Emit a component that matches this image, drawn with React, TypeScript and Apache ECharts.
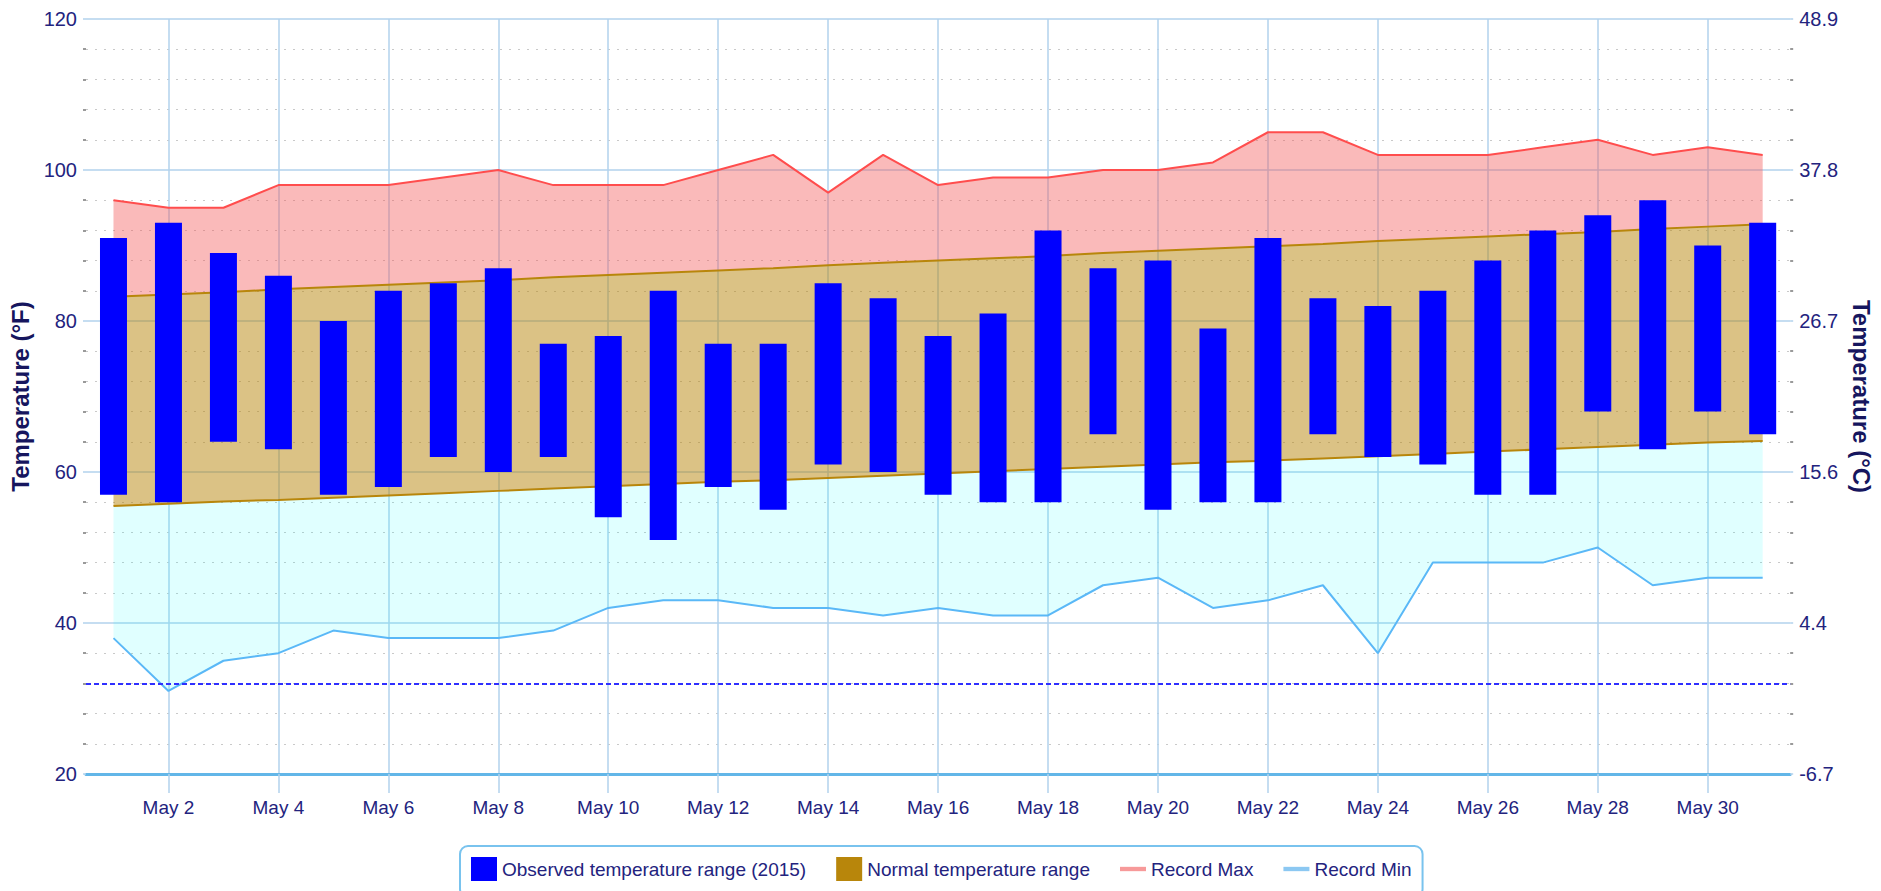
import React, { useEffect, useRef } from "react";
import * as echarts from "echarts";

const days = [
  "May 1", "May 2", "May 3", "May 4", "May 5", "May 6", "May 7", "May 8", "May 9", "May 10",
  "May 11", "May 12", "May 13", "May 14", "May 15", "May 16", "May 17", "May 18", "May 19", "May 20",
  "May 21", "May 22", "May 23", "May 24", "May 25", "May 26", "May 27", "May 28", "May 29", "May 30", "May 31",
];

const obsMax = [91, 93, 89, 86, 80, 84, 85, 87, 77, 78, 84, 77, 77, 85, 83, 78, 81, 92, 87, 88, 79, 91, 83, 82, 84, 88, 92, 94, 96, 90, 93];
const obsMin = [57, 56, 64, 63, 57, 58, 62, 60, 62, 54, 51, 58, 55, 61, 60, 57, 56, 56, 65, 55, 56, 56, 65, 62, 61, 57, 57, 68, 63, 68, 65];

const normMax = [83.2, 83.5, 83.8, 84.2, 84.5, 84.8, 85.1, 85.4, 85.8, 86.1, 86.4, 86.7, 87.0, 87.4, 87.7, 88.0, 88.3, 88.6, 89.0, 89.3, 89.6, 89.9, 90.2, 90.6, 90.9, 91.2, 91.5, 91.8, 92.2, 92.5, 92.8];
const normMin = [55.5, 55.8, 56.1, 56.3, 56.6, 56.9, 57.2, 57.5, 57.8, 58.1, 58.4, 58.7, 58.9, 59.2, 59.5, 59.8, 60.1, 60.4, 60.7, 61.0, 61.3, 61.5, 61.8, 62.1, 62.4, 62.7, 63.0, 63.3, 63.6, 63.9, 64.1];

const recMax = [96, 95, 95, 98, 98, 98, 99, 100, 98, 98, 98, 100, 102, 97, 102, 98, 99, 99, 100, 100, 101, 105, 105, 102, 102, 102, 103, 104, 102, 103, 102];
const recMin = [38, 31, 35, 36, 39, 38, 38, 38, 39, 42, 43, 43, 42, 42, 41, 42, 41, 41, 45, 46, 42, 43, 45, 36, 48, 48, 48, 50, 45, 46, 46];

const freezing = 32;

const FONT = "'Liberation Sans', Arial, sans-serif";
const NAVY = "#23237e";
const GRID_BLUE = "#b2d2ec";
const LINE_ICON = "path://M0,0 L30,0 L30,5 L0,5 Z";

const diff = (a: number[], b: number[]) => a.map((v, i) => +(v - b[i]).toFixed(2));
const toC = (f: number) => ((f - 32) * 5 / 9).toFixed(1);

export default function App() {
  const ref = useRef<HTMLDivElement>(null);

  useEffect(() => {
    if (!ref.current) return;
    const chart = echarts.init(ref.current, undefined, { renderer: "svg" });
    const evenIdx = (i: number) => i % 2 === 1;
    const bandLine = { opacity: 0, width: 0 };

    chart.setOption({
      animation: false,
      backgroundColor: "#ffffff",
      grid: { left: 86, right: 80, top: 19, bottom: 117, containLabel: false },
      legend: {
        left: 460,
        top: 846,
        orient: "horizontal",
        padding: [11, 11, 16, 11],
        borderColor: "#79c3ee",
        borderWidth: 2,
        borderRadius: 8,
        backgroundColor: "#ffffff",
        itemGap: 30,
        itemWidth: 26,
        itemHeight: 24,
        symbolKeepAspect: true,
        textStyle: { fontFamily: FONT, fontSize: 19, color: NAVY },
        data: [
          { name: "Observed temperature range (2015)", icon: "rect" },
          { name: "Normal temperature range", icon: "rect", itemStyle: { color: "#b8860b" } },
          { name: "Record Max", icon: LINE_ICON, itemStyle: { color: "#f79a9a" } },
          { name: "Record Min", icon: LINE_ICON, itemStyle: { color: "#8cc8f2" } },
        ],
      },
      xAxis: {
        type: "category",
        data: days,
        boundaryGap: true,
        axisLine: { show: true, lineStyle: { color: "#62b6e8", width: 3 } },
        axisTick: {
          show: true,
          alignWithLabel: true,
          interval: evenIdx,
          length: 19,
          lineStyle: { color: GRID_BLUE, width: 1.5 },
        },
        axisLabel: {
          interval: evenIdx,
          margin: 24,
          fontFamily: FONT,
          fontSize: 19,
          color: NAVY,
        },
        splitLine: {
          show: true,
          alignWithLabel: true,
          interval: evenIdx,
          lineStyle: { color: GRID_BLUE, width: 1.5 },
        },
      },
      yAxis: [
        {
          type: "value",
          min: 20,
          max: 120,
          interval: 20,
          name: "Temperature (°F)",
          nameLocation: "middle",
          nameRotate: 90,
          nameGap: 52,
          nameTextStyle: { fontFamily: FONT, fontWeight: "bold", fontSize: 24, color: "#16165e" },
          axisLine: { show: false },
          axisTick: { show: true, length: 3, lineStyle: { color: GRID_BLUE, width: 1.5 } },
          minorTick: { show: true, splitNumber: 5, length: 3, lineStyle: { color: "#9a9a9a", width: 2 } },
          axisLabel: { margin: 9, fontFamily: FONT, fontSize: 20, color: NAVY },
          splitLine: { show: true, lineStyle: { color: GRID_BLUE, width: 1.5 } },
          minorSplitLine: { show: true, lineStyle: { color: "#c9c9c9", width: 1, type: [2, 7] } },
        },
        {
          type: "value",
          min: 20,
          max: 120,
          interval: 20,
          position: "right",
          name: "Temperature (°C)",
          nameLocation: "middle",
          nameRotate: -90,
          nameGap: 53,
          nameTextStyle: { fontFamily: FONT, fontWeight: "bold", fontSize: 24, color: "#16165e" },
          axisLine: { show: false },
          axisTick: { show: true, length: 3, lineStyle: { color: GRID_BLUE, width: 1.5 } },
          minorTick: { show: true, splitNumber: 5, length: 3, lineStyle: { color: "#9a9a9a", width: 2 } },
          axisLabel: { margin: 9, fontFamily: FONT, fontSize: 20, color: NAVY, formatter: (v: number) => toC(v) },
          splitLine: { show: false },
        },
      ],
      series: [
        {
          type: "line", name: "_base", stack: "band", data: recMin, symbol: "none",
          lineStyle: bandLine, z: 2, silent: true,
        },
        {
          type: "line", name: "_cold", stack: "band", data: diff(normMin, recMin), symbol: "none",
          lineStyle: bandLine, areaStyle: { color: "rgba(0,255,255,0.12)", opacity: 1 }, z: 2, silent: true,
        },
        {
          type: "line", name: "Normal temperature range", stack: "band", data: diff(normMax, normMin), symbol: "none",
          lineStyle: bandLine, itemStyle: { color: "#b8860b" },
          areaStyle: { color: "rgba(184,134,11,0.5)", opacity: 1 }, z: 2, silent: true,
        },
        {
          type: "line", name: "_warm", stack: "band", data: diff(recMax, normMax), symbol: "none",
          lineStyle: bandLine, areaStyle: { color: "rgba(244,91,91,0.42)", opacity: 1 }, z: 2, silent: true,
        },
        {
          type: "line", name: "_nmax", data: normMax, symbol: "none",
          lineStyle: { color: "#b8860b", width: 2 }, z: 3, silent: true,
        },
        {
          type: "line", name: "_nmin", data: normMin, symbol: "none",
          lineStyle: { color: "#b8860b", width: 2 }, z: 3, silent: true,
        },
        {
          type: "line", name: "Record Max", data: recMax, symbol: "none",
          itemStyle: { color: "#ff4d4d" }, lineStyle: { color: "#ff4d4d", width: 2 }, z: 3,
        },
        {
          type: "line", name: "Record Min", data: recMin, symbol: "none",
          itemStyle: { color: "#5ab8f7" }, lineStyle: { color: "#5ab8f7", width: 2 }, z: 3,
          markLine: {
            silent: true,
            symbol: ["none", "none"],
            label: { show: false },
            lineStyle: { color: "#2f2fff", width: 2, type: [5, 3] },
            data: [{ yAxis: freezing }],
          },
        },
        {
          type: "bar", name: "_obsBase", stack: "obs", data: obsMin, barWidth: 27,
          itemStyle: { color: "transparent" }, z: 4, silent: true,
        },
        {
          type: "bar", name: "Observed temperature range (2015)", stack: "obs", data: diff(obsMax, obsMin),
          barWidth: 27, itemStyle: { color: "#0000ff" }, z: 4,
        },
      ],
    });

    return () => chart.dispose();
  }, []);

  return (
    <div
      ref={ref}
      style={{ position: "absolute", left: 0, top: 0, width: 1881, height: 891 }}
    />
  );
}
